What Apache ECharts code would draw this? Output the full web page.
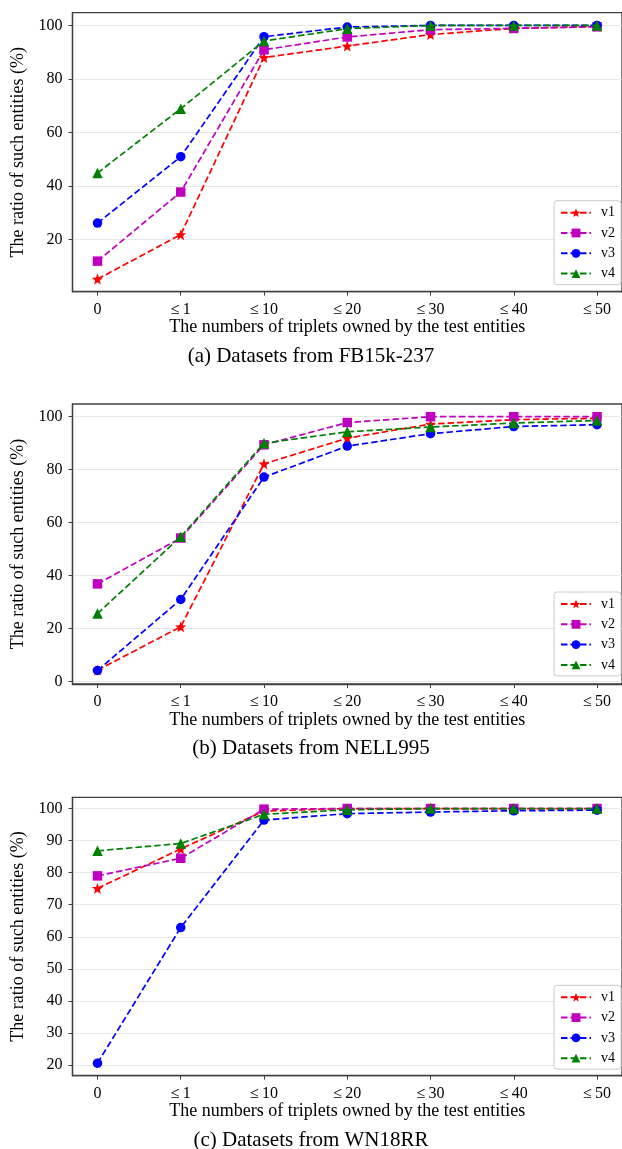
<!DOCTYPE html>
<html>
<head>
<meta charset="utf-8">
<script src="https://cdn.jsdelivr.net/npm/echarts@6/dist/echarts.min.js"></script>
<style>
html,body{margin:0;padding:0;background:#fff;}
#chart{width:622px;height:1149px;}
</style>
</head>
<body>
<div id="chart"></div>
<script>
// ---- data ----
const categories = ['0', '≤\u20091', '≤\u200910', '≤\u200920', '≤\u200930', '≤\u200940', '≤\u200950'];
const seriesNames = ['v1', 'v2', 'v3', 'v4'];

// (a) FB15k-237
const fbV1 = [5.3, 21.9, 88.0, 92.3, 96.6, 98.9, 99.6];
const fbV2 = [12.0, 37.8, 90.9, 95.7, 98.4, 98.9, 99.5];
const fbV3 = [26.2, 51.0, 95.8, 99.4, 100, 100, 100];
const fbV4 = [44.9, 68.9, 94.2, 98.8, 100, 100, 100];

// (b) NELL995
const nellV1 = [4.3, 20.7, 82.2, 91.9, 97.2, 98.9, 99.4];
const nellV2 = [36.9, 54.2, 89.4, 97.8, 100, 100, 100];
const nellV3 = [4.2, 31.0, 77.2, 88.9, 93.6, 96.3, 97.0];
const nellV4 = [25.7, 54.7, 90.0, 94.3, 96.1, 97.6, 98.6];

// (c) WN18RR
const wnV1 = [75.1, 87.4, 99.2, 100, 100, 100, 100];
const wnV2 = [79.0, 84.5, 99.8, 100, 100, 100, 100];
const wnV3 = [20.6, 62.9, 96.4, 98.4, 98.9, 99.3, 99.5];
const wnV4 = [86.8, 89.1, 98.2, 99.6, 100, 100, 100];

const yTicksA = [20, 40, 60, 80, 100];
const yTicksB = [0, 20, 40, 60, 80, 100];
const yTicksC = [20, 30, 40, 50, 60, 70, 80, 90, 100];

const captions = ['(a) Datasets from FB15k-237', '(b) Datasets from NELL995', '(c) Datasets from WN18RR'];
const xTitle = 'The numbers of triplets owned by the test entities';
const yTitle = 'The ratio of such entities (%)';

// ---- styling ----
const FONT = 'Liberation Serif';
const colors = ['#ff0000', '#bf00bf', '#0000ff', '#008000'];
function starPath() {
  const pts = [];
  for (let i = 0; i < 10; i++) {
    const r = i % 2 === 0 ? 1 : 0.42;
    const a = -Math.PI / 2 + i * Math.PI / 5;
    pts.push((50 + 50 * r * Math.cos(a)).toFixed(2) + ' ' + (52 + 50 * r * Math.sin(a)).toFixed(2));
  }
  return 'path://M' + pts.join(' L') + ' Z';
}
const symbols = [starPath(), 'rect', 'circle', 'triangle'];
const symbolSizes = [11, 9.5, 9.5, 10.5];

const panels = [
  { data: [fbV1, fbV2, fbV3, fbV4], ticks: yTicksA, min: 0.6, max: 104.75, top: 12.7, height: 279 },
  { data: [nellV1, nellV2, nellV3, nellV4], ticks: yTicksB, min: -0.9, max: 104.8, top: 404, height: 280 },
  { data: [wnV1, wnV2, wnV3, wnV4], ticks: yTicksC, min: 16.7, max: 103.5, top: 797.3, height: 278.4 }
];

const axisColor = '#404040';
const grids = [], xAxes = [], yAxes = [], series = [], legends = [], titles = [];
panels.forEach((p, k) => {
  grids.push({ left: 72.5, right: -6, top: p.top, height: p.height, show: true,
    borderColor: axisColor, borderWidth: 1.3, backgroundColor: 'transparent' });
  xAxes.push({
    type: 'value', gridIndex: k, min: -0.3, max: 6.3,
    name: xTitle, nameLocation: 'middle', nameGap: 27,
    nameTextStyle: { fontFamily: FONT, fontSize: 18, color: '#000' },
    axisLine: { show: true, onZero: false, lineStyle: { color: axisColor, width: 1.3 } },
    axisTick: { show: true, length: 4, customValues: categories.map((c, i) => i), lineStyle: { color: axisColor, width: 1 } },
    axisLabel: { customValues: categories.map((c, i) => i), fontFamily: FONT, fontSize: 16, color: '#000', margin: 10,
      formatter: v => categories[Math.round(v)] },
    splitLine: { show: false }
  });
  yAxes.push({
    type: 'value', gridIndex: k, min: p.min, max: p.max,
    name: yTitle, nameLocation: 'middle', nameGap: 41,
    nameTextStyle: { fontFamily: FONT, fontSize: 18, color: '#000' },
    axisLine: { show: true, onZero: false, lineStyle: { color: axisColor, width: 1.3 } },
    axisTick: { show: true, length: 4, customValues: p.ticks, lineStyle: { color: axisColor, width: 1 } },
    axisLabel: { customValues: p.ticks, fontFamily: FONT, fontSize: 16, color: '#000', margin: 10 },
    splitLine: { show: true, lineStyle: { color: '#e0e0e0', width: 0.8 } }
  });
  p.data.forEach((vals, s) => {
    series.push({
      name: seriesNames[s], type: 'line', xAxisIndex: k, yAxisIndex: k,
      data: vals.map((v, i) => [i, v]),
      symbol: symbols[s], symbolSize: symbolSizes[s], showAllSymbol: true,
      itemStyle: { color: colors[s] },
      lineStyle: { color: colors[s], width: 1.7, type: [6.5, 3] },
      animation: false, z: 2 + s
    });
  });
  legends.push({
    data: seriesNames, orient: 'vertical', left: 554, top: p.top + 188,
    itemWidth: 30, itemHeight: 11, itemGap: 6.3,
    padding: [5, 6, 4, 6],
    backgroundColor: 'rgba(255,255,255,0.85)', borderColor: '#cccccc', borderWidth: 1, borderRadius: 3,
    textStyle: { fontFamily: FONT, fontSize: 14, color: '#000', padding: [0, 0, 0, 5] },
    selectedMode: false
  });
  titles.push({
    text: captions[k], left: 'center', top: p.top + p.height + 54, padding: 0,
    textStyle: { fontFamily: FONT, fontSize: 21, fontWeight: 'normal', color: '#000' }
  });
});

const chart = echarts.init(document.getElementById('chart'), null, { renderer: 'canvas' });
chart.setOption({
  backgroundColor: '#fff',
  animation: false,
  title: titles,
  grid: grids,
  xAxis: xAxes,
  yAxis: yAxes,
  legend: legends,
  series: series
});
</script>
</body>
</html>
